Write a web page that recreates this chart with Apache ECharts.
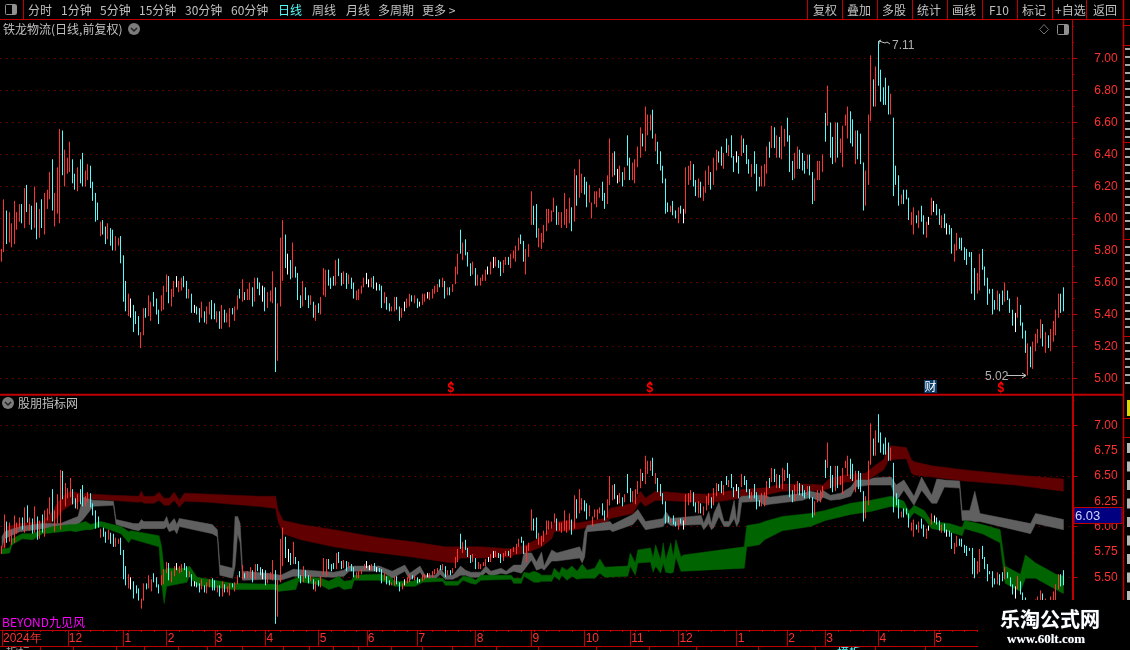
<!DOCTYPE html>
<html><head><meta charset="utf-8"><style>html,body{margin:0;padding:0;background:#000}#c{width:1130px;height:650px}</style>
<script src="https://cdn.jsdelivr.net/npm/echarts@6/dist/echarts.min.js"></script></head>
<body><div id="c"></div><script>
const highs=[
5.81,6.12,6.05,6.04,5.97,6.11,6.04,6.09,6.09,6.19,
6.21,6.09,6.08,6.20,6.10,6.06,6.12,6.16,6.18,6.29,
6.37,6.16,6.32,6.56,6.55,6.43,6.38,6.48,6.37,6.28,
6.32,6.37,6.41,6.30,6.34,6.33,6.23,6.16,6.10,5.98,
5.99,5.95,5.97,5.94,5.93,5.89,5.88,5.89,5.77,5.61,
5.53,5.50,5.46,5.42,5.39,5.29,5.44,5.44,5.52,5.48,
5.54,5.50,5.43,5.52,5.58,5.65,5.64,5.56,5.61,5.64,
5.61,5.63,5.64,5.61,5.56,5.53,5.46,5.45,5.44,5.48,
5.42,5.45,5.48,5.49,5.47,5.42,5.42,5.46,5.43,5.41,
5.44,5.44,5.45,5.52,5.56,5.62,5.54,5.56,5.60,5.57,
5.63,5.63,5.60,5.58,5.57,5.54,5.55,5.67,5.57,5.47,
5.88,5.99,5.90,5.78,5.74,5.85,5.70,5.66,
5.52,5.61,5.57,5.52,5.52,5.48,5.46,5.47,5.51,5.69,
5.68,5.68,5.63,5.64,5.74,5.75,5.66,5.67,5.66,5.65,
5.63,5.60,5.55,5.56,5.58,5.63,5.66,5.62,5.63,5.64,
5.60,5.59,5.58,5.54,5.51,5.47,5.45,5.51,5.51,5.45,
5.44,5.48,5.50,5.53,5.52,5.52,5.50,5.48,5.53,5.53,
5.54,5.54,5.56,5.58,5.59,5.62,5.63,5.61,5.57,5.57,
5.59,5.70,5.78,5.93,5.85,5.87,5.79,5.72,5.73,5.69,
5.65,5.63,5.65,5.68,5.70,5.73,5.76,5.76,5.74,5.73,
5.74,5.76,5.76,5.78,5.80,5.83,5.88,5.90,5.86,5.81,
5.84,6.17,6.08,6.09,5.94,5.91,5.96,6.06,6.06,6.05,
6.13,6.08,6.04,6.04,6.16,6.06,6.13,6.07,6.31,6.27,
6.37,6.28,6.26,6.23,6.21,6.10,6.17,6.17,6.19,6.23,
6.16,6.27,6.50,6.41,6.42,6.31,6.33,6.29,6.32,6.52,
6.38,6.35,6.37,6.45,6.57,6.53,6.70,6.65,6.65,6.68,
6.53,6.48,6.42,6.33,6.25,6.10,6.08,6.11,6.05,6.07,
6.08,6.06,6.32,6.33,6.36,6.34,6.24,6.25,
6.23,6.20,6.30,6.33,6.29,6.38,6.43,6.42,6.45,6.41,
6.50,6.46,6.52,6.39,6.42,6.39,6.52,6.50,6.46,6.37,
6.34,6.42,6.34,6.26,6.33,6.34,6.45,6.48,6.58,6.57,
6.52,6.51,6.58,6.56,6.63,6.52,6.36,6.41,6.45,6.43,
6.41,6.36,6.40,6.40,6.29,6.25,6.36,6.36,6.40,6.66,
6.83,6.60,6.51,6.60,6.60,6.50,6.58,6.65,6.70,6.67,
6.62,6.55,6.55,6.53,6.35,6.30,6.65,7.02,6.87,6.95,
7.11,6.93,6.82,6.88,6.83,6.78,6.63,6.33,6.27,6.15,
6.18,6.18,6.13,6.04,6.07,6.02,6.05,6.08,6.02,5.98,
6.01,6.13,6.11,6.09,6.06,6.02,6.03,5.97,5.96,5.94,
5.84,5.91,5.88,5.88,5.82,5.81,5.79,5.79,5.69,5.66,
5.78,5.81,5.70,5.63,5.56,5.56,5.49,5.55,5.53,5.55,
5.60,5.55,5.50,5.43,5.41,5.51,5.46,5.35,5.30,5.22,
5.20,5.23,5.28,5.31,5.37,5.34,5.29,5.27,5.31,5.36,
5.43,5.53,5.53,5.57];
const lows=[
5.73,5.79,5.84,5.85,5.82,5.84,5.93,5.98,5.97,5.94,
6.04,5.96,5.93,5.94,5.87,5.88,5.94,5.90,6.06,6.12,
6.05,5.95,6.03,5.97,6.27,6.20,6.28,6.29,6.22,6.18,
6.17,6.22,6.20,6.20,6.24,6.19,6.11,5.98,5.99,5.89,
5.90,5.84,5.87,5.83,5.80,5.80,5.83,5.72,5.48,5.42,
5.39,5.38,5.29,5.34,5.27,5.19,5.27,5.38,5.39,5.36,
5.45,5.40,5.34,5.42,5.43,5.54,5.47,5.45,5.51,5.57,
5.54,5.55,5.57,5.50,5.50,5.41,5.41,5.40,5.35,5.38,
5.35,5.34,5.40,5.37,5.37,5.35,5.31,5.31,5.35,5.35,
5.32,5.40,5.36,5.43,5.50,5.48,5.49,5.49,5.49,5.45,
5.48,5.56,5.52,5.48,5.42,5.44,5.48,5.47,5.04,5.11,
5.45,5.61,5.69,5.65,5.62,5.63,5.63,5.49,
5.44,5.45,5.49,5.44,5.46,5.38,5.36,5.41,5.40,5.52,
5.51,5.58,5.56,5.58,5.58,5.64,5.58,5.59,5.56,5.59,
5.56,5.50,5.49,5.49,5.53,5.57,5.59,5.57,5.57,5.56,
5.55,5.55,5.44,5.47,5.43,5.42,5.42,5.42,5.43,5.36,
5.38,5.42,5.44,5.45,5.48,5.47,5.44,5.45,5.46,5.48,
5.50,5.49,5.50,5.53,5.54,5.57,5.57,5.50,5.52,5.52,
5.54,5.59,5.65,5.78,5.74,5.77,5.70,5.64,5.65,5.58,
5.58,5.58,5.61,5.61,5.65,5.65,5.69,5.70,5.69,5.64,
5.66,5.71,5.71,5.69,5.75,5.73,5.80,5.84,5.73,5.65,
5.76,5.96,5.96,5.88,5.82,5.81,5.85,5.92,5.97,5.98,
6.04,5.96,5.96,5.94,5.96,5.94,5.97,5.92,5.98,6.08,
6.13,6.16,6.15,6.07,6.10,6.00,6.09,6.07,6.13,6.11,
6.06,6.09,6.21,6.26,6.27,6.22,6.23,6.20,6.24,6.33,
6.24,6.24,6.22,6.32,6.38,6.45,6.42,6.52,6.55,6.50,
6.42,6.34,6.30,6.22,6.03,6.04,6.04,6.02,6.00,5.97,
6.03,5.97,6.03,6.21,6.24,6.20,6.14,6.13,
6.13,6.11,6.16,6.21,6.18,6.21,6.30,6.35,6.33,6.31,
6.41,6.39,6.38,6.29,6.35,6.28,6.39,6.41,6.34,6.28,
6.26,6.28,6.17,6.20,6.20,6.20,6.28,6.38,6.44,6.44,
6.38,6.38,6.37,6.45,6.48,6.29,6.24,6.25,6.31,6.31,
6.30,6.28,6.31,6.27,6.09,6.11,6.24,6.24,6.29,6.48,
6.58,6.38,6.34,6.35,6.38,6.41,6.32,6.58,6.50,6.47,
6.45,6.34,6.37,6.34,6.05,6.08,6.21,6.61,6.70,6.70,
6.83,6.73,6.71,6.71,6.65,6.65,6.14,6.21,6.08,6.09,
6.09,6.12,5.99,5.96,5.90,5.97,5.94,5.98,5.90,5.88,
5.96,6.02,6.04,6.02,5.96,5.94,5.94,5.90,5.90,5.78,
5.73,5.80,5.81,5.80,5.74,5.71,5.76,5.53,5.49,5.53,
5.55,5.68,5.58,5.46,5.53,5.40,5.43,5.43,5.42,5.46,
5.48,5.49,5.41,5.33,5.29,5.38,5.33,5.25,5.16,5.02,
5.07,5.06,5.17,5.22,5.25,5.20,5.16,5.19,5.17,5.23,
5.27,5.38,5.41,5.42];
const kinds=(
"RRCRRRRRCR"+"CRCRCRCRRR"+"CRRRCRRRCC"+"RCCRRCCCCR"+"CCRCCRRCCC"+"RWCCCRRCRR"+"CCCRRRCRRW"+"RRCCRCWCCR"+"CRRCCRCRCR"+"RCRRCRCRRC"+"RCCWCRRRCR"+"RRCWCRCC"+
"CRCCRCRCRR"+"RCCCRCCRCR"+"CCRRRRWWRC"+"WCCRCCRRCC"+"RWRRCRCWRR"+"WRRRRCRCRC"+"RRRCRCCCRC"+"RRRRWRWRCC"+"RRCRRRRCCR"+"RRCCRRRRRR"+"RCRRRRRCRC"+"RRCCRRRRRC"+"CRRRCWRCRC"+"CRRRRCRRRC"+"RCCCCCRCCR"+"CWRRRCCR"+
"CRRRCRRCCR"+"CRCCWCRCCC"+"RCCCRRRCRC"+"RCRRCCCRRC"+"CCRCCRRRRC"+"RCCRCRRRRC"+"CRCCCRRRCR"+"CCCCCRCCCR"+"CCCRRCRCCR"+"WRWCCRCWCC"+"RRCCCCCCCR"+"RCCCCCCRCC"+"RCCCWRCCCR"+"CRRRRCRCRR"+"RRCC");
const SLOTS=423;
const monthIdx=[0,26,48,65,84,104,125,144,164,187,209,230,248,267,290,310,325,346,368];
const monthTxt=["2024年","12","1","2","3","4","5","6","7","8","9","10","11","12","1","2","3","4","5"];
const upperTicks={min:5.0,max:7.2,step:0.2};
const lowerTicks={min:5.0,max:7.25,major:0.5,minor:0.25};
// [bar index, upper edge, lower edge]
const redBand=[[0,5.80,5.74],[1,5.90,5.77],[2,6.00,5.92],[7,6.03,5.95],[16,6.05,6.00],[19,6.12,6.03],[21,6.20,6.07],[24,6.30,6.16],[27,6.35,6.21],[31,6.33,6.25],[36,6.32,6.27],[43,6.31,6.26],[54,6.30,6.24],[55,6.35,6.25],[56,6.30,6.23],[60,6.30,6.23],[62,6.34,6.26],[64,6.28,6.21],[66,6.28,6.21],[68,6.34,6.26],[70,6.26,6.19],[72,6.33,6.25],[82,6.32,6.24],[91,6.31,6.22],[101,6.30,6.20],[108,6.30,6.18],[109,6.16,6.05],[111,6.06,5.93],[118,6.02,5.87],[131,5.97,5.80],[142,5.92,5.76],[149,5.89,5.74],[162,5.85,5.70],[175,5.80,5.65],[179,5.80,5.64],[181,5.80,5.69],[189,5.80,5.69],[201,5.78,5.70],[202,5.79,5.72],[207,5.82,5.74],[213,5.90,5.80],[217,5.99,5.88],[218,6.05,5.95],[225,6.06,5.96],[226,6.03,5.97],[233,6.06,6.00],[238,6.08,6.02],[240,6.18,6.08],[249,6.23,6.13],[252,6.35,6.25],[254,6.28,6.20],[258,6.35,6.26],[268,6.33,6.25],[278,6.32,6.23],[289,6.36,6.27],[299,6.38,6.30],[301,6.38,6.31],[308,6.42,6.35],[317,6.42,6.35],[324,6.41,6.36],[327,6.48,6.38],[333,6.51,6.44],[341,6.53,6.45],[345,6.61,6.51],[348,6.66,6.56],[350,6.80,6.66],[357,6.78,6.67],[359,6.66,6.53],[360,6.64,6.51],[367,6.60,6.49],[380,6.56,6.45],[400,6.51,6.41],[419,6.47,6.35]];
const grayBand=[[0,5.90,5.80],[1,5.95,5.88],[7,6.00,5.95],[16,6.03,5.98],[23,6.03,5.99],[30,6.10,6.02],[32,6.29,6.07],[36,6.26,6.20],[44,6.25,6.21],[45,6.07,6.02],[52,6.03,5.97],[54,6.03,5.96],[55,6.07,5.98],[56,6.05,5.98],[64,6.05,5.98],[65,6.10,6.00],[66,6.02,5.95],[68,6.08,5.97],[69,6.02,5.93],[70,6.08,6.00],[83,6.02,5.93],[85,5.97,5.90],[86,5.62,5.52],[91,5.59,5.49],[92,6.10,5.61],[93,6.10,5.93],[94,6.03,5.84],[95,5.56,5.47],[105,5.54,5.48],[110,5.52,5.47],[115,5.58,5.51],[131,5.55,5.50],[135,5.57,5.51],[137,5.61,5.56],[149,5.61,5.56],[151,5.59,5.54],[154,5.56,5.49],[159,5.62,5.56],[161,5.54,5.47],[165,5.61,5.55],[167,5.52,5.48],[171,5.52,5.48],[173,5.59,5.53],[175,5.52,5.48],[178,5.52,5.48],[181,5.61,5.52],[183,5.57,5.52],[185,5.55,5.50],[189,5.55,5.50],[191,5.61,5.55],[193,5.56,5.51],[197,5.59,5.54],[199,5.56,5.53],[202,5.62,5.56],[205,5.62,5.54],[206,5.74,5.57],[209,5.74,5.67],[211,5.65,5.57],[213,5.75,5.59],[214,5.61,5.57],[217,5.77,5.66],[219,5.74,5.66],[228,5.80,5.69],[229,5.74,5.64],[230,5.95,5.70],[231,6.01,5.95],[240,6.05,5.97],[241,6.02,5.95],[249,6.12,6.02],[251,6.17,6.08],[254,6.05,5.97],[261,6.08,6.00],[262,6.15,6.05],[264,6.08,6.01],[276,6.11,6.02],[277,6.03,5.97],[279,6.15,6.03],[280,6.03,5.97],[281,6.13,5.99],[283,6.24,6.10],[285,6.05,6.00],[287,6.05,6.00],[289,6.26,6.08],[290,6.05,6.00],[291,6.28,6.05],[292,6.30,6.24],[299,6.31,6.25],[301,6.31,6.21],[303,6.29,6.22],[316,6.33,6.26],[319,6.35,6.29],[323,6.33,6.25],[324,6.36,6.29],[327,6.31,6.26],[331,6.33,6.27],[335,6.39,6.30],[337,6.46,6.39],[342,6.46,6.41],[344,6.48,6.41],[351,6.49,6.41],[353,6.41,6.25],[356,6.46,6.36],[360,6.30,6.21],[363,6.49,6.36],[367,6.31,6.23],[369,6.47,6.23],[372,6.46,6.39],[378,6.45,6.38],[379,6.16,6.06],[382,6.16,6.06],[384,6.35,6.05],[386,6.13,6.05],[406,6.03,5.93],[408,6.13,6.03],[419,6.07,5.97]];
const greenBand=[[0,5.78,5.73],[3,5.79,5.74],[4,5.88,5.82],[8,5.93,5.88],[12,5.93,5.87],[16,5.97,5.93],[20,6.00,5.94],[27,6.02,5.96],[29,6.02,5.95],[33,6.05,5.97],[35,6.02,5.97],[39,6.05,6.00],[47,6.00,5.93],[50,5.95,5.84],[51,5.96,5.88],[62,5.91,5.80],[63,5.80,5.44],[64,5.57,5.24],[65,5.59,5.41],[73,5.59,5.45],[74,5.61,5.51],[77,5.50,5.42],[91,5.44,5.38],[108,5.43,5.38],[109,5.42,5.36],[116,5.49,5.38],[117,5.51,5.46],[126,5.49,5.42],[129,5.46,5.38],[133,5.51,5.41],[135,5.46,5.38],[138,5.47,5.39],[139,5.52,5.47],[149,5.53,5.47],[153,5.51,5.44],[155,5.46,5.41],[162,5.46,5.41],[163,5.47,5.41],[166,5.49,5.45],[174,5.49,5.46],[175,5.46,5.42],[180,5.46,5.42],[182,5.51,5.47],[185,5.50,5.44],[187,5.47,5.43],[189,5.52,5.47],[201,5.52,5.48],[202,5.49,5.44],[205,5.49,5.44],[206,5.55,5.51],[208,5.54,5.48],[210,5.56,5.45],[212,5.54,5.45],[213,5.52,5.46],[217,5.52,5.46],[218,5.59,5.51],[220,5.54,5.47],[221,5.60,5.52],[223,5.57,5.47],[225,5.61,5.51],[227,5.56,5.48],[229,5.63,5.49],[231,5.57,5.49],[234,5.59,5.49],[236,5.68,5.54],[238,5.60,5.50],[247,5.61,5.51],[248,5.74,5.61],[250,5.64,5.52],[251,5.77,5.64],[256,5.79,5.65],[257,5.69,5.55],[258,5.82,5.61],[260,5.67,5.54],[261,5.84,5.64],[262,5.67,5.55],[264,5.84,5.54],[265,5.70,5.55],[266,5.87,5.70],[268,5.70,5.56],[269,5.72,5.56],[293,5.80,5.59],[294,6.01,5.80],[299,6.03,5.82],[301,6.05,5.87],[308,6.10,5.96],[319,6.13,6.00],[325,6.16,6.06],[335,6.23,6.12],[343,6.26,6.15],[351,6.30,6.20],[356,6.25,6.18],[358,6.15,6.07],[360,6.21,6.14],[364,6.16,6.08],[367,6.05,5.98],[374,6.03,5.95],[379,5.99,5.91],[380,6.06,5.98],[387,6.02,5.93],[394,5.97,5.84],[396,5.61,5.44],[402,5.53,5.36],[404,5.72,5.49],[408,5.64,5.49],[416,5.53,5.38],[419,5.51,5.34]];

const RED='#c00000', TXT='#c0c0c0', CJK='"Noto Sans CJK SC","Liberation Sans",sans-serif';
const categories=Array(SLOTS).fill('');
monthIdx.forEach((k,i)=>categories[k]=monthTxt[i]);
const candles=highs.map((h,i)=>{const l=lows[i],k=kinds[i];
  if(k==='R')return [l,h,l,h];
  if(k==='C')return [h,l,l,h];
  const m=(h+l)/2;return [m,m,l,h];});
function candle(x,y){return {type:'candlestick',xAxisIndex:x,yAxisIndex:y,data:candles,barWidth:0.2,z:3,silent:true,
  itemStyle:{color:'#ff3232',color0:'#54fcfc',borderColor:'#ff3232',borderColor0:'#54fcfc',borderColorDoji:'#ffffff',borderWidth:1}};}
function band(rows,color){return {type:'custom',coordinateSystem:'cartesian2d',xAxisIndex:1,yAxisIndex:1,z:2,silent:true,clip:true,
  data:rows,encode:{x:0,y:[1,2]},
  renderItem(p,api){ if(p.dataIndex!==0) return null;
    const up=rows.map(r=>api.coord([r[0],r[1]])), dn=rows.map(r=>api.coord([r[0],r[2]])).reverse();
    return {type:'polygon',shape:{points:up.concat(dn)},style:{fill:color,stroke:color,lineWidth:0.5}};}};}
function txt(x,y,s,o={},z=50){return {type:'text',x,y,z,silent:true,style:Object.assign({text:s,fill:TXT,font:'12px '+CJK,textVerticalAlign:'middle'},o)};}
function ln(x1,y1,x2,y2,c=RED,w=1){return {type:'line',z:60,silent:true,shape:{x1,y1,x2,y2},style:{stroke:c,lineWidth:w}};}
function box(x,y,w,h,fill,z=60,stroke){return {type:'rect',z,silent:true,shape:{x,y,width:w,height:h},style:{fill,stroke}};}
function badge(x,y){return [{type:'circle',z:50,silent:true,shape:{cx:x,cy:y,r:6},style:{fill:'#7c7c7c'}},
  {type:'polyline',z:51,silent:true,shape:{points:[[x-3,y-1],[x,y+2],[x+3,y-1]]},style:{stroke:'#222',fill:'none',lineWidth:1.5}}];}

const g=[];
// toolbar
[['分时',28],['1分钟',61],['5分钟',100],['15分钟',139],['30分钟',185],['60分钟',231],['周线',312],['月线',346],['多周期',378],['更多 >',422],
 ['复权',813],['叠加',847],['多股',882],['统计',917],['画线',952],['F10',989],['标记',1022],['+自选',1055],['返回',1093]].forEach(t=>g.push(txt(t[1],10,t[0])));
g.push(txt(278,10,'日线',{fill:'#54fcfc'}));
g.push(ln(0,19.5,1130,19.5),ln(23.5,0,23.5,19));
[807,842,877,912,947,982,1017,1052,1086].forEach(x=>g.push(ln(x+.5,0,x+.5,19)));
g.push({type:'rect',z:50,silent:true,shape:{x:5.5,y:4.5,width:11,height:10,r:1},style:{fill:'#000',stroke:'#909090',lineWidth:1}},box(12,5,4,9,'#909090',51));
g.push(txt(3,29.5,'铁龙物流(日线,前复权)'),...badge(134,29));
g.push({type:'polygon',z:50,silent:true,shape:{points:[[1044,24.5],[1048.5,29.5],[1044,34],[1039.5,29.5]]},style:{fill:'none',stroke:'#707070'}});
g.push({type:'rect',z:50,silent:true,shape:{x:1057.5,y:24.5,width:11,height:10,r:1},style:{fill:'#000',stroke:'#909090'}},box(1064,25,4,9,'#909090',51));
// pane frame; the two small boxes hide the axis-extent ticks above the top labels
g.push(box(1074,20,9,30,'#000000',40),box(1074.5,396.5,9,24,'#000000',40));
g.push(ln(0,394.8,1123,394.8,RED,2),ln(1072.5,19,1072.5,395),ln(1073,395,1073,600,RED,2),ln(1123.5,0,1123.5,600,RED,1.5));
[25,45,142,239,336,418,437].forEach(y=>g.push(ln(1124,y+.5,1130,y+.5)));
// right strip, cut off by the window edge
[48,56,64,72,80,88,96,104,112,120,128,136,148,156,164,172,180,188,196,204,212,220,228,246,254,262,270,278,286,294,302,310,318,326,342,350,358,366,374,382].forEach(y=>g.push(box(1125,y,5,2,'#a8a8a8',55)));
for(let k=0;k<9;k++) g.push(box(1127,443+k*18.5,3,10,'#b8b8b8',55));
g.push(box(1127,400,3,16,'#d8d800',55));
// annotations
g.push(txt(892,46,'7.11',{fill:'#b0b0b0',font:'12px "Liberation Sans"'}),
 {type:'polyline',z:50,silent:true,shape:{points:[[879,41],[882,42],[885,43],[887,42],[890,44]]},style:{stroke:'#c0c0c0',fill:'none'}},
 {type:'polyline',z:50,silent:true,shape:{points:[[881,40],[879,41],[879,44]]},style:{stroke:'#c0c0c0',fill:'none'}});
g.push(txt(985,377,'5.02',{fill:'#b0b0b0',font:'12px "Liberation Sans"'}),ln(1007,375.5,1026,375.5,'#c0c0c0'),
 {type:'polyline',z:50,silent:true,shape:{points:[[1022,373],[1026,375.5],[1022,378]]},style:{stroke:'#c0c0c0',fill:'none'}});
[451,650,1001].forEach(x=>{g.push(txt(x-3.5,389,'$',{fill:'#ff0000',font:'bold 12px "Liberation Sans"'}));
  g.push({type:'polygon',z:50,silent:true,shape:{points:[[x,381],[x+2.5,384],[x-2.5,384]]},style:{fill:'#ff0000'}});});
g.push(box(924,380,13,13,'#0a3a6a',49),txt(924.5,386.5,'财',{fill:'#ffffff'}));
// lower pane labels
g.push(...badge(8,403),txt(18,403,'股朋指标网'));
g.push(txt(2,622.5,'BEYOND九见风',{fill:'#ff00ff',font:'12px '+CJK}));
g.push(box(1074,507.5,48,16,'#000080',61,RED),txt(1075,516,'6.03',{fill:'#d0d8ff',font:'13px "Liberation Sans"'},63));
// bottom tabs
g.push(ln(0,646.5,978,646.5));
[40,73,116,144,178,207,242,283,309,333,358,391,422,452,496,538,596,649,696,758,815,875,925].forEach(x=>g.push(ln(x+.5,646,x+.5,650)));
g.push(txt(6,652,'指标',{fill:'#a0a0a0'}),txt(837,652,'模板',{fill:'#54fcfc'}));
// watermark
g.push(box(978,600,152,50,'#000000',90));
g.push({type:'text',z:95,silent:true,x:1050,y:619,style:{text:'乐淘公式网',fill:'#ffffff',font:'bold 20px "Noto Sans CJK SC"',textAlign:'center',textVerticalAlign:'middle',textShadowColor:'#7888a0',textShadowBlur:1}});
g.push({type:'text',z:95,silent:true,x:1046,y:640,style:{text:'www.60lt.com',fill:'#ffffff',font:'bold 13px "Liberation Serif"',textAlign:'center',textVerticalAlign:'middle',textShadowColor:'#7888a0',textShadowBlur:1}});

const dotted={show:true,lineStyle:{color:'#a80000',type:[1,5],width:1}};
const numFont={color:'#ff3232',fontFamily:'"Liberation Sans"',fontSize:12};
const chart=echarts.init(document.getElementById('c'),null,{renderer:'canvas'});
chart.setOption({
 backgroundColor:'#000',animation:false,
 grid:[{left:0.43,width:1071.9,top:26.5,height:352},{left:0.43,width:1071.9,top:400,height:227.9}],
 xAxis:[
  {type:'category',gridIndex:0,data:categories,show:false},
  {type:'category',gridIndex:1,data:categories,position:'bottom',offset:2,
   axisLine:{lineStyle:{color:RED}},
   axisTick:{show:true,alignWithLabel:true,length:16,lineStyle:{color:RED},interval:(i,v)=>v!==''},
   axisLabel:{interval:(i,v)=>v!=='',align:'left',margin:3,padding:[0,0,0,1],verticalAlign:'top',fontFamily:'"Liberation Sans"',fontSize:12,color:'#ff3232',hideOverlap:false},
   splitLine:{show:false}},
  {type:'category',gridIndex:1,data:categories,position:'bottom',offset:2,
   axisLine:{show:false},axisLabel:{show:false},splitLine:{show:false},
   axisTick:{show:true,alignWithLabel:true,length:2,interval:4,lineStyle:{color:RED}}}
 ],
 yAxis:[
  {type:'value',gridIndex:0,position:'right',min:upperTicks.min,max:upperTicks.max,interval:upperTicks.step,
   axisLine:{show:false},axisTick:{show:true,length:5,lineStyle:{color:RED}},
   minorTick:{show:true,splitNumber:2,length:2,lineStyle:{color:RED}},
   splitLine:Object.assign({showMaxLine:false},dotted),
   axisLabel:Object.assign({margin:22,showMaxLabel:false,formatter:v=>v.toFixed(2)},numFont)},
  {type:'value',gridIndex:1,position:'right',min:lowerTicks.min,max:lowerTicks.max,interval:lowerTicks.major,
   axisLine:{show:false},axisTick:{show:true,length:5,lineStyle:{color:RED}},
   splitLine:Object.assign({showMaxLine:false,showMinLine:false},dotted),axisLabel:{show:false}},
  {type:'value',gridIndex:1,position:'right',min:lowerTicks.min,max:lowerTicks.max,interval:lowerTicks.minor,
   axisLine:{show:false},axisTick:{show:true,length:2,lineStyle:{color:RED}},splitLine:{show:false},
   axisLabel:Object.assign({margin:22,showMaxLabel:false,formatter:v=>v>=5.5&&v<=7?v.toFixed(2):''},numFont)}
 ],
 series:[candle(0,0),band(redBand,'#600000'),band(grayBand,'#606060'),band(greenBand,'#006400'),candle(1,1)],
 graphic:{elements:g}
});
</script></body></html>
